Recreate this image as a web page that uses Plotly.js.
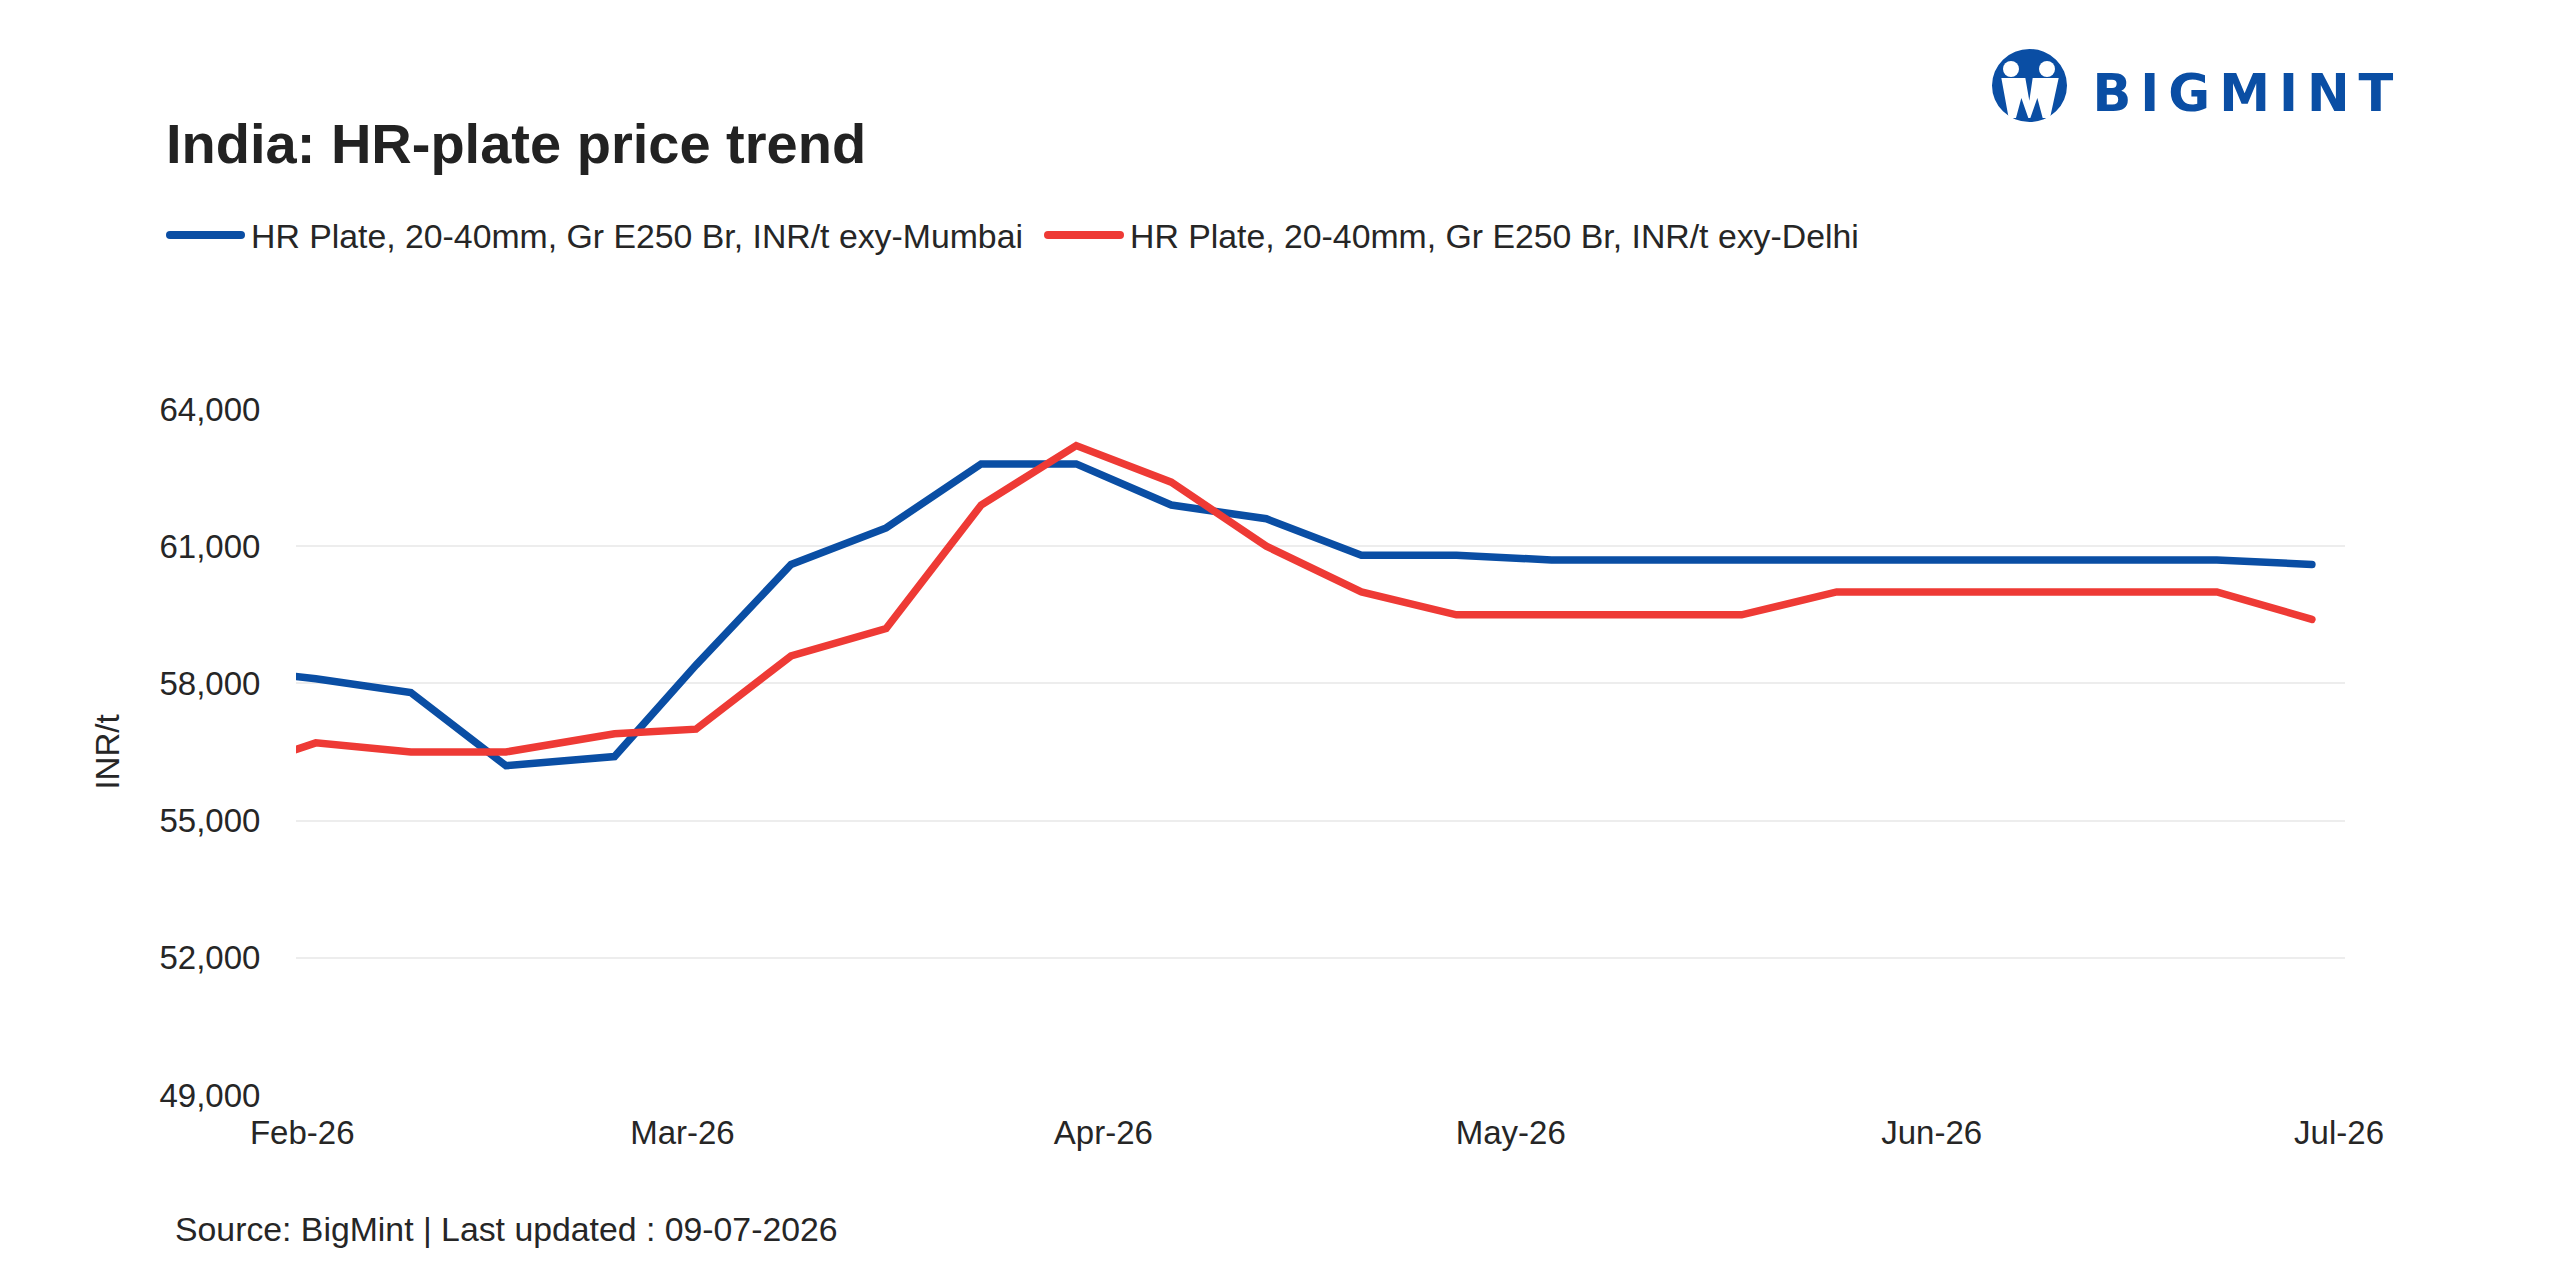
<!DOCTYPE html>
<html>
<head>
<meta charset="utf-8">
<script src="https://cdn.plot.ly/plotly-3.0.1.min.js"></script>
<style>
  html, body { margin: 0; padding: 0; background: #ffffff; }
  #chart { width: 2560px; height: 1283px; }
</style>
</head>
<body>
<div id="chart"></div>
<script>
// Weekly assessment dates
const dates = [
  '2026-01-26', '2026-02-02', '2026-02-09', '2026-02-16', '2026-02-24',
  '2026-03-02', '2026-03-09', '2026-03-16', '2026-03-23', '2026-03-30',
  '2026-04-06', '2026-04-13', '2026-04-20', '2026-04-27', '2026-05-04',
  '2026-05-11', '2026-05-18', '2026-05-25', '2026-06-01', '2026-06-08',
  '2026-06-15', '2026-06-22', '2026-06-29'
];

// HR plate prices, INR/t
const mumbaiName = 'HR Plate, 20-40mm, Gr E250 Br, INR/t exy-Mumbai';
const mumbai = [
  58350, 58100, 57800, 56200, 56400,
  58400, 60600, 61400, 62800, 62800,
  61900, 61600, 60800, 60800, 60700,
  60700, 60700, 60700, 60700, 60700,
  60700, 60700, 60600
];

const delhiName = 'HR Plate, 20-40mm, Gr E250 Br, INR/t exy-Delhi';
const delhi = [
  56000, 56700, 56500, 56500, 56900,
  57000, 58600, 59200, 61900, 63200,
  62400, 61000, 60000, 59500, 59500,
  59500, 59500, 60000, 60000, 60000,
  60000, 60000, 59400
];

const chartTitle = 'India: HR-plate price trend';
const yTitle = 'INR/t';
const sourceNote = 'Source: BigMint | Last updated : 09-07-2026';
const brand = 'BIGMINT';

const BLUE = '#0a4ea4';
const RED = '#ee3a35';
const TEXT = '#262626';
const FONT = 'Liberation Sans, Arial, Helvetica, sans-serif';

// Plot area in page pixels, used to place decorations in paper units
const W = 2560, H = 1283;
const L = 296, R = 2345, T = 409, B = 1095;
const px = x => (x - L) / (R - L);
const py = y => (B - y) / (B - T);

const traces = [
  { x: dates, y: mumbai, name: mumbaiName, type: 'scatter', mode: 'lines',
    line: { color: BLUE, width: 7.5 }, showlegend: false, hoverinfo: 'x+y' },
  { x: dates, y: delhi, name: delhiName, type: 'scatter', mode: 'lines',
    line: { color: RED, width: 7.5 }, showlegend: false, hoverinfo: 'x+y' }
];

// Brand mark: blue disc, two heads and an "M" body
function iconPt(zx, zy) { return [px(1960 + zx / 3), py(30 + zy / 3)]; }
function iconPath(pts) {
  return pts.map((p, i) => {
    const q = iconPt(p[0], p[1]);
    return (i ? 'L' : 'M') + q[0].toFixed(5) + ',' + q[1].toFixed(5);
  }).join(' ') + ' Z';
}
const bodyM = iconPath([
  [124, 144], [196, 144], [208, 212], [218, 144], [296, 144],
  [270, 264], [248, 264], [232, 204], [211, 264], [205, 264],
  [184, 204], [168, 264], [146, 264]
]);

const shapes = [
  // legend keys
  { type: 'line', xref: 'paper', yref: 'paper', x0: px(170), x1: px(241), y0: py(235), y1: py(235),
    line: { color: BLUE, width: 8 } },
  { type: 'line', xref: 'paper', yref: 'paper', x0: px(1048), x1: px(1120), y0: py(235), y1: py(235),
    line: { color: RED, width: 8 } },
  // brand icon
  { type: 'circle', xref: 'paper', yref: 'paper',
    x0: px(1992), x1: px(2067), y0: py(49), y1: py(122),
    fillcolor: BLUE, line: { width: 0 } },
  { type: 'path', xref: 'paper', yref: 'paper', path: bodyM,
    fillcolor: '#ffffff', line: { width: 0 } },
  { type: 'circle', xref: 'paper', yref: 'paper',
    x0: px(2003), x1: px(2019), y0: py(61), y1: py(77),
    fillcolor: '#ffffff', line: { width: 0 } },
  { type: 'circle', xref: 'paper', yref: 'paper',
    x0: px(2039), x1: px(2055), y0: py(61), y1: py(77),
    fillcolor: '#ffffff', line: { width: 0 } }
];

const annotations = [
  { xref: 'paper', yref: 'paper', x: px(249), y: py(236), xanchor: 'left', yanchor: 'middle',
    text: mumbaiName, showarrow: false, font: { family: FONT, size: 33.8, color: TEXT } },
  { xref: 'paper', yref: 'paper', x: px(1128), y: py(236), xanchor: 'left', yanchor: 'middle',
    text: delhiName, showarrow: false, font: { family: FONT, size: 33.8, color: TEXT } },
  { xref: 'paper', yref: 'paper', x: px(173), y: py(1229), xanchor: 'left', yanchor: 'middle',
    text: sourceNote, showarrow: false, font: { family: FONT, size: 33.8, color: TEXT } },
  { xref: 'paper', yref: 'paper', x: px(2247), y: py(93), xanchor: 'center', yanchor: 'middle',
    text: brand, showarrow: false,
    font: { family: 'DejaVu Sans, Open Sans, sans-serif', size: 51, color: BLUE, weight: 700 } }
];

const layout = {
  width: W, height: H,
  margin: { l: L, r: W - R, t: T, b: H - B, pad: 0 },
  paper_bgcolor: '#ffffff',
  plot_bgcolor: '#ffffff',
  font: { family: FONT, color: TEXT, size: 33 },
  title: {
    text: chartTitle, xref: 'container', yref: 'container',
    x: 166 / W, xanchor: 'left', y: 1 - 143 / H, yanchor: 'middle',
    font: { family: FONT, size: 56, color: '#222222', weight: 700 }
  },
  xaxis: {
    type: 'date',
    range: ['2026-01-31 13:00', '2026-07-01 10:30'],
    tick0: '2026-02-01', dtick: 'M1', tickformat: '%b-%y',
    showgrid: false, zeroline: false, showline: false,
    ticks: 'outside', ticklen: 8, tickcolor: 'rgba(0,0,0,0)',
    tickfont: { family: FONT, size: 33, color: TEXT }
  },
  yaxis: {
    range: [49000, 64000], tick0: 49000, dtick: 3000, tickformat: ',d',
    showgrid: true, gridcolor: '#ededed', gridwidth: 2,
    zeroline: false, showline: false,
    ticks: 'outside', ticklen: 28, tickcolor: 'rgba(0,0,0,0)',
    tickfont: { family: FONT, size: 33, color: TEXT },
    title: { text: yTitle, standoff: 29, font: { family: FONT, size: 33, color: TEXT } }
  },
  shapes: shapes,
  annotations: annotations,
  showlegend: false
};

Plotly.newPlot('chart', traces, layout, { displayModeBar: false, staticPlot: true }).then(gd => {
  gd.querySelectorAll('.annotation-text').forEach(t => {
    if (t.textContent === brand) t.style.letterSpacing = '9px';
  });
  gd.querySelectorAll('.shapelayer path').forEach(p => { p.style.strokeLinecap = 'round'; });
  gd.querySelectorAll('.scatterlayer .js-line').forEach(p => {
    p.style.strokeLinecap = 'round';
    p.style.strokeLinejoin = 'miter';
  });
});
</script>
</body>
</html>
